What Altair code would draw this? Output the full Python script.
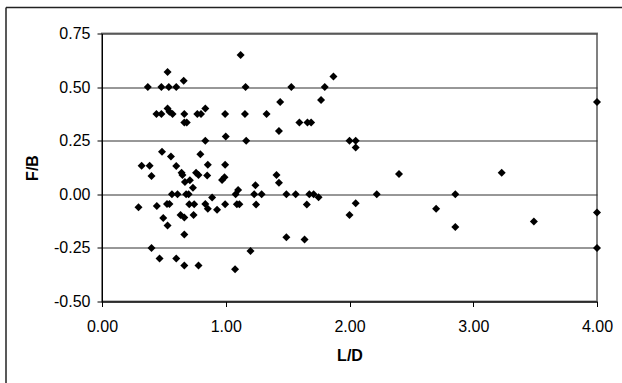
import altair as alt
import pandas as pd

ld = [
    1.12,
    0.37, 0.48, 0.54, 0.60, 1.16, 1.53, 1.80,
    0.53, 0.66, 1.87, 1.77, 1.44, 4.00,
    0.44, 0.48, 0.53, 0.545, 0.57, 0.665, 0.77, 0.80, 0.835, 0.995, 1.155, 1.33,
    0.665, 0.685, 1.595, 1.66, 1.69, 1.43,
    0.835, 1.00, 1.165, 2.00, 2.05, 2.05,
    0.485, 0.557, 0.795,
    0.32, 0.385, 0.40,
    0.60, 0.643, 0.65,
    0.76, 0.78, 0.855, 0.85, 0.995,
    0.97, 0.99,
    0.67, 0.71, 0.735,
    0.565, 0.61, 0.68, 0.70,
    0.89, 1.08, 1.10,
    1.24, 1.23, 1.29, 1.245,
    1.41, 1.43, 1.49, 1.565, 1.675, 1.71, 1.75, 1.655,
    2.40, 3.23, 2.22, 2.855,
    0.295, 0.443, 0.525, 0.545, 0.705, 0.745, 0.835, 0.855, 0.93, 0.995, 1.09, 1.11,
    0.495, 0.53, 0.635, 0.665, 0.74, 0.665,
    2.00, 2.05, 2.70, 2.855, 3.49, 4.00,
    1.49, 1.637,
    0.40, 4.00, 1.20,
    0.465, 0.60, 0.665, 0.78, 1.075,
]
fb = [
    0.65,
    0.50, 0.50, 0.50, 0.50, 0.50, 0.50, 0.50,
    0.57, 0.53, 0.55, 0.44, 0.43, 0.43,
    0.375, 0.375, 0.40, 0.385, 0.375, 0.375, 0.375, 0.375, 0.40, 0.375, 0.375, 0.375,
    0.335, 0.335, 0.335, 0.335, 0.335, 0.295,
    0.25, 0.27, 0.25, 0.25, 0.25, 0.218,
    0.198, 0.176, 0.187,
    0.133, 0.133, 0.085,
    0.132, 0.10, 0.09,
    0.10, 0.09, 0.138, 0.088, 0.138,
    0.067, 0.08,
    0.057, 0.065, 0.03,
    0.0, 0.0, 0.0, 0.0,
    -0.015, 0.0, 0.02,
    0.042, 0.0, 0.0, -0.048,
    0.09, 0.054, 0.0, 0.0, 0.0, 0.0, -0.014, -0.048,
    0.095, 0.10, 0.0, 0.0,
    -0.06, -0.055, -0.045, -0.045, -0.046, -0.046, -0.045, -0.067, -0.072, -0.046, -0.046, -0.046,
    -0.11, -0.146, -0.096, -0.108, -0.097, -0.188,
    -0.097, -0.042, -0.067, -0.152, -0.127, -0.085,
    -0.20, -0.211,
    -0.25, -0.25, -0.265,
    -0.30, -0.30, -0.332, -0.332, -0.35,
]
x_ticks = [0, 1, 2, 3, 4]
y_ticks = [-0.5, -0.25, 0, 0.25, 0.5, 0.75]

df = pd.DataFrame({"L/D": ld, "F/B": fb})

FONT = "Liberation Sans"
LABEL = "replace(format(datum.value, '.2f'), '\u2212', '-')"

one = pd.DataFrame({"k": [0]})
left_edge = alt.Chart(one).mark_rule(
    stroke="#222222", strokeWidth=1.5, clip=False
).encode(x=alt.value(-96), y=alt.value(-26), y2=alt.value(400))
top_edge = alt.Chart(one).mark_rule(
    stroke="#222222", strokeWidth=1.5, clip=False
).encode(x=alt.value(-96), x2=alt.value(560), y=alt.value(-26))

points = alt.Chart(df).mark_point(
    shape="diamond", filled=True, size=64, color="black", opacity=1
).encode(
    x=alt.X("L/D:Q", scale=alt.Scale(domain=[0, 4], nice=False),
            axis=alt.Axis(values=x_ticks, grid=False, labelExpr=LABEL, labelFlush=False,
                          title="L/D", titlePadding=13, labelPadding=12)),
    y=alt.Y("F/B:Q", scale=alt.Scale(domain=[-0.5, 0.75], nice=False),
            axis=alt.Axis(values=y_ticks, grid=True, labelExpr=LABEL, labelFlush=False,
                          title="F/B", titlePadding=13, labelPadding=7)),
)

chart = alt.layer(left_edge, top_edge, points).properties(
    width=495, height=268,
    padding={"left": 102, "top": 33.5, "right": 25, "bottom": 81.5},
    autosize=alt.AutoSizeParams(type="none"),
).configure_view(
    stroke="#808080", strokeWidth=2
).configure_axis(
    domainColor="black", domainWidth=1, tickColor="black", tickSize=5,
    gridColor="#303030", gridWidth=1,
    labelFont=FONT, labelFontSize=16, labelColor="black",
    titleFont=FONT, titleFontSize=16, titleFontWeight="bold", titleColor="black",
)

chart.save("out.html", embed_options={"renderer": "svg", "actions": False})
